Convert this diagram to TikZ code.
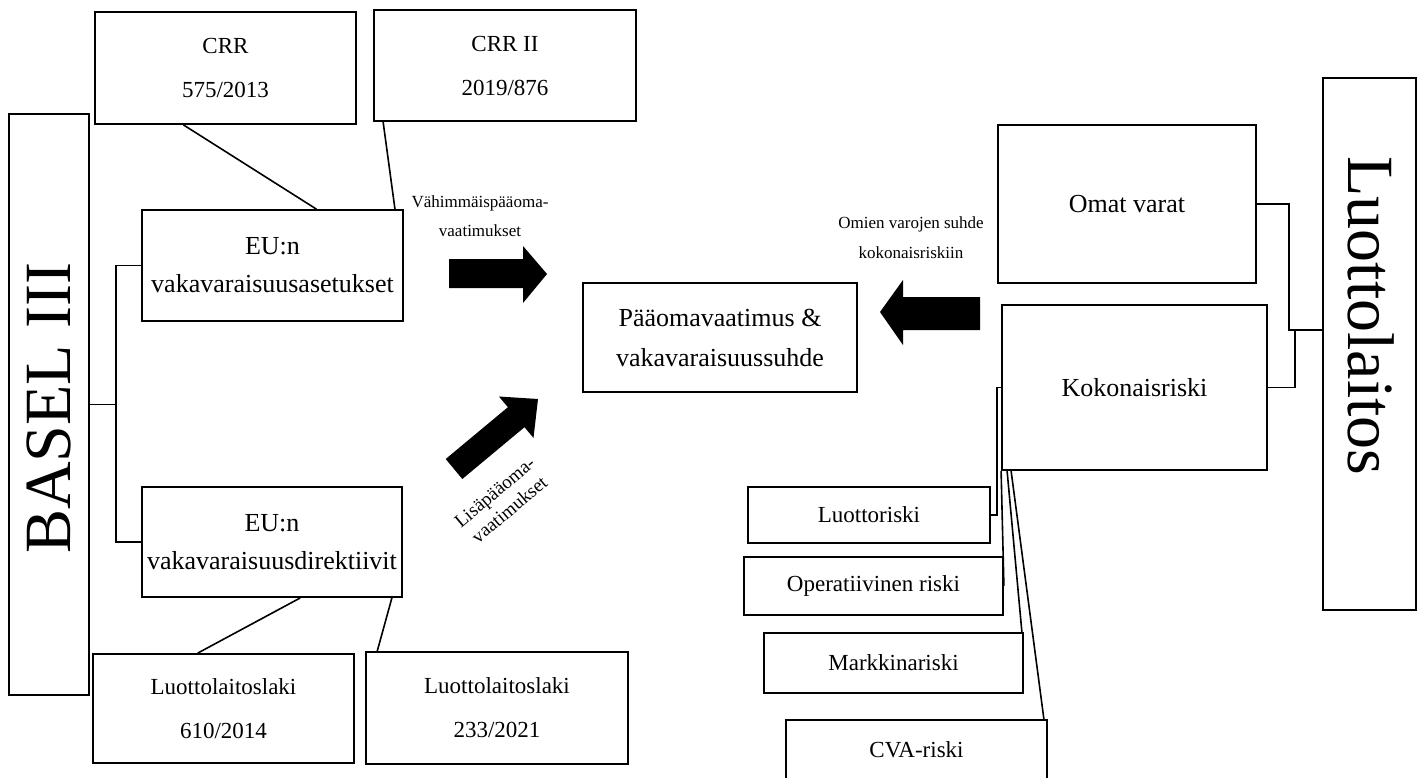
\documentclass[tikz,border=0pt]{standalone}
\usepackage{fontspec}
\setmainfont{Liberation Serif}
\usetikzlibrary{calc}
\newcommand\fsz[2]{\fontsize{#1}{#2}\selectfont}
\begin{document}
\begin{tikzpicture}[x=0.5pt,y=-0.5pt,
  box/.style={draw, line width=0.9pt, inner sep=0pt, align=center},
  conn/.style={line width=0.8pt},
  lawfont/.style={font=\fsz{11.5}{22}},
  eufont/.style={font=\fsz{13}{19}},
  riskfont/.style={font=\fsz{11.5}{14}},
  bigfont/.style={font=\fsz{33}{38}},
  lblfont/.style={font=\fsz{8.5}{14.5}, align=center}]
\useasboundingbox (0,0) rectangle (1425,777);
\fill[white] (0,0) rectangle (1425,777);
\clip (0,0) rectangle (1425,777);

% left side
\node[box, minimum width=40pt, minimum height=290.5pt] (basel) at (49,404.5) {};
\node[bigfont, rotate=90] (baseltxt) at (49,408) {BASEL III};
\node[box, lawfont, minimum width=130.5pt, minimum height=56pt] (crr) at (225.5,68) {CRR\\575/2013};
\node[box, lawfont, minimum width=131pt, minimum height=55.5pt] (crr2) at (505,65.5) {CRR II\\2019/876};
\node[box, eufont, minimum width=130.5pt, minimum height=55.5pt] (aset) at (272.5,265.5) {EU:n\\vakavaraisuusasetukset};
\node[box, eufont, minimum width=130pt, minimum height=55pt] (dir) at (272,542) {EU:n\\vakavaraisuusdirektiivit};
\node[box, lawfont, minimum width=130.5pt, minimum height=54.5pt] (law1) at (223.5,708.5) {Luottolaitoslaki\\610/2014};
\node[box, lawfont, minimum width=131pt, minimum height=56pt] (law2) at (497,708) {Luottolaitoslaki\\233/2021};

% centre
\node[box, font=\fsz{13}{20}, minimum width=137pt, minimum height=54.5pt] (center) at (720,337.5) {Pääomavaatimus \&\\vakavaraisuussuhde};

% right side
\node[box, font=\fsz{13}{16}, minimum width=129pt, minimum height=79pt] (omat) at (1127,204) {Omat varat};
\node[box, font=\fsz{13}{16}, minimum width=132.5pt, minimum height=82.5pt] (koko) at (1134.5,387.5) {Kokonaisriski};
\node[box, minimum width=46.5pt, minimum height=266pt] (luot) at (1369.5,344) {};
\node[bigfont, rotate=-90] (luottxt) at (1371,316) {Luottolaitos};
\node[box, riskfont, minimum width=121pt, minimum height=28pt] (luriski) at (869,515) {Luottoriski};
\node[box, riskfont, minimum width=129.5pt, minimum height=29pt] (oper) at (873.5,586) {Operatiivinen riski};
\node[box, riskfont, minimum width=129.5pt, minimum height=30pt] (mark) at (893.5,663) {Markkinariski};
\node[box, riskfont, minimum width=130.5pt, minimum height=30pt] (cva) at (916.5,750) {CVA-riski};

% labels
\node[lblfont] (lblmin) at (480,216) {Vähimmäispääoma-\\vaatimukset};
\node[lblfont, font=\fsz{8.5}{15}] (lblom) at (911,238) {Omien varojen suhde\\kokonaisriskiin};
\node[lblfont, font=\fsz{9.5}{11.5}, rotate=40] (lbllis) at (502,501) {Lisäpääoma-\\vaatimukset};

% block arrows
\fill (449,259) -- (523,259) -- (523,246) -- (547,274) -- (523,303) -- (523,288) -- (449,288) -- cycle;
\fill (980,297) -- (903,297) -- (903,280) -- (880,312) -- (903,345) -- (903,330) -- (980,330) -- cycle;
\fill (445.7,459.0) -- (507.9,407.2) -- (498.9,396.5) -- (538,399) -- (533.5,437.9) -- (524.5,427.2) -- (462.3,479.0) -- cycle;

% connectors left
\coordinate (bj) at (116,0);
\draw[conn] (basel.east) -- (basel.east -| bj) |- (aset.west);
\draw[conn] (basel.east -| bj) |- (dir.west);
\draw[conn] ($(crr.south west)!0.34!(crr.south east)$) -- ($(aset.north west)!0.667!(aset.north east)$);
\draw[conn] ($(crr2.south west)!0.038!(crr2.south east)$) -- ($(aset.north west)!0.966!(aset.north east)$);
\draw[conn] ($(dir.south west)!0.608!(dir.south east)$) -- ($(law1.north west)!0.402!(law1.north east)$);
\draw[conn] ($(dir.south west)!0.958!(dir.south east)$) -- ($(law2.north west)!0.046!(law2.north east)$);

% connectors right
\coordinate (oj) at (1289,330);
\coordinate (kj) at (1295,330);
\coordinate (lj) at (997,0);
\draw[conn] (omat.east) -| (oj) -- (oj -| luot.west);
\draw[conn] (koko.east) -| (kj);
\draw[conn] (luriski.east) -- (luriski.east -| lj) |- (koko.west);
\draw[conn] (koko.south west) -- (oper.east);
\draw[conn] ($(koko.south west)+(6,0)$) -- ($(mark.north east)+(-2,0)$);
\draw[conn] ($(koko.south west)+(10,0)$) -- ($(cva.north east)+(-4,0)$);
\end{tikzpicture}
\end{document}
